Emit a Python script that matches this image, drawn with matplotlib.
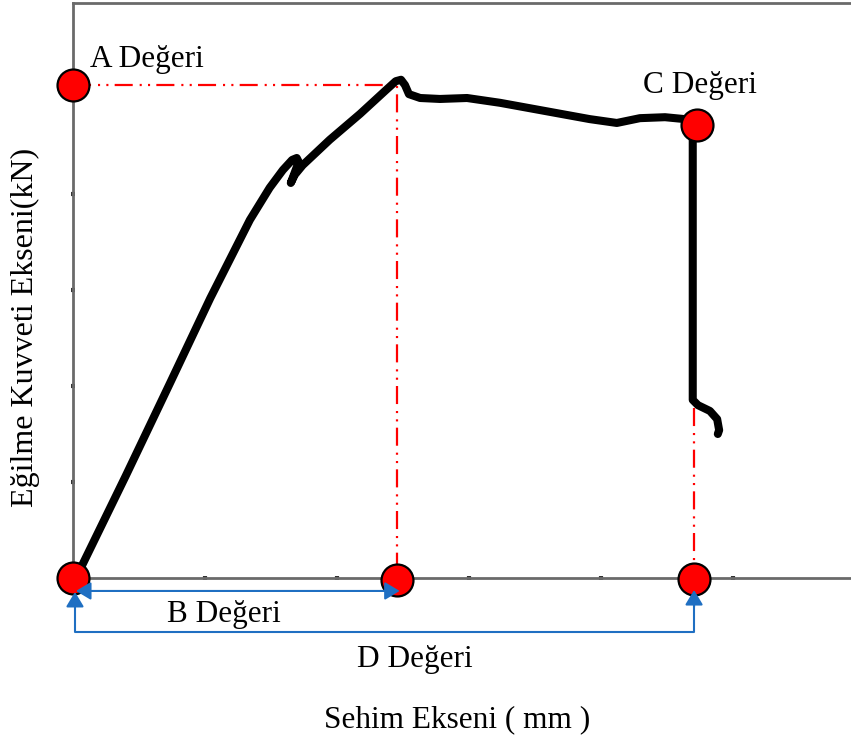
import matplotlib.pyplot as plt

plt.rcParams['font.family'] = ['Liberation Serif', 'DejaVu Serif']
plt.rcParams['lines.scale_dashes'] = False

# load-deflection curve (mm, kN)
sehim = [0.08, 0.80, 1.47, 2.08, 2.68, 2.98, 3.18, 3.32, 3.39, 3.42, 3.30, 3.36, 3.48,
         3.89, 4.35, 4.73, 4.89, 4.97, 5.03, 5.09, 5.26, 5.56, 5.97, 6.47, 7.23, 7.83,
         8.24, 8.59, 8.97, 9.27, 9.36, 9.39, 9.39, 9.47, 9.65, 9.76, 9.79, 9.77]
kuvvet = [0.10, 2.13, 4.06, 5.83, 7.46, 8.13, 8.50, 8.71, 8.75, 8.67, 8.23, 8.40, 8.60,
          9.13, 9.67, 10.15, 10.35, 10.38, 10.27, 10.08, 10.00, 9.98, 10.00, 9.90, 9.71, 9.56,
          9.48, 9.58, 9.60, 9.56, 9.46, 9.13, 3.71, 3.60, 3.48, 3.31, 3.08, 3.00]

# marked points
A = (0.0, 10.27)
B = (4.91, -0.05)
C = (9.45, 9.44)
D = (9.41, -0.02)
O = (0.0, 0.0)
D_drop = 3.54          # where the red guide under D starts
B_ok_y = -0.27         # B arrow level
D_ok_y = -1.125        # D bracket level

xticks = [2, 4, 6, 8, 10]
yticks = [2, 4, 6, 8]

fig = plt.figure(figsize=(8.51, 7.38), dpi=100)
ax = fig.add_axes([73 / 851, 1 - 578 / 738, 1 - 73 / 851, 575 / 738])
ax.set_xlim(0, 778 / 66)
ax.set_ylim(0, 575 / 48)

for s in ['left', 'top', 'bottom']:
    ax.spines[s].set_color('#6a6a6a')
    ax.spines[s].set_linewidth(2)
ax.spines['right'].set_visible(False)
ax.set_xticks(xticks)
ax.set_yticks(yticks)
ax.tick_params(length=2.5, width=3, direction='inout', color='#333333',
               labelbottom=False, labelleft=False)

# curve
ax.plot(sehim, kuvvet, color='black', lw=5.8, solid_joinstyle='round',
        solid_capstyle='round', zorder=3)

# red dash-dot-dot guides
red_ls = (0, (13, 5, 1.5, 4.5, 1.5, 4.5))
ax.plot([A[0], B[0], B[0]], [A[1], A[1], 0], color='red', lw=1.6, ls=red_ls,
        zorder=2, clip_on=False)
ax.plot([D[0], D[0]], [D_drop, 0], color='red', lw=1.6, ls=red_ls, zorder=2)

# red dots
for p in [A, C, O, B, D]:
    ax.plot(p[0], p[1], 'o', ms=23, mfc='#ff0000', mec='black', mew=1.6,
            zorder=5, clip_on=False)

# blue arrows
blue = '#1f6fc2'
ap = dict(arrowstyle='-|>,head_length=0.45,head_width=0.27', color=blue, lw=1.5,
          shrinkA=0, shrinkB=0, mutation_scale=20)
ap2 = dict(ap, arrowstyle='<|-|>,head_length=0.45,head_width=0.27')
ax.annotate('', xy=(4.95, B_ok_y), xytext=(0.045, B_ok_y), arrowprops=ap2,
            annotation_clip=False, zorder=6)
ax.plot([0.03, 0.03, D[0], D[0]], [-0.5, D_ok_y, D_ok_y, -0.5], color=blue, lw=1.5,
        clip_on=False, zorder=6)
ax.annotate('', xy=(0.03, -0.29), xytext=(0.03, -0.6), arrowprops=ap,
            annotation_clip=False, zorder=6)
ax.annotate('', xy=(D[0], -0.25), xytext=(D[0], -0.6), arrowprops=ap,
            annotation_clip=False, zorder=6)

# labels
fs = 22.5
ax.text(0.258, 10.65, 'A Değeri', fontsize=fs, va='baseline', ha='left')
ax.text(9.5, 10.1, 'C Değeri', fontsize=fs, va='baseline', ha='center')
ax.text(2.29, -0.917, 'B Değeri', fontsize=fs, va='baseline', ha='center')
ax.text(5.18, -1.854, 'D Değeri', fontsize=fs, va='baseline', ha='center')
fig.text(457 / 851, 1 - 727 / 738, 'Sehim Ekseni ( mm )', fontsize=fs,
         va='baseline', ha='center')
fig.text(25 / 851, 1 - 327 / 738, 'Eğilme Kuvveti Ekseni(kN)', fontsize=23,
         rotation=90, va='center', ha='center')

fig.savefig('out.png', dpi=100)
